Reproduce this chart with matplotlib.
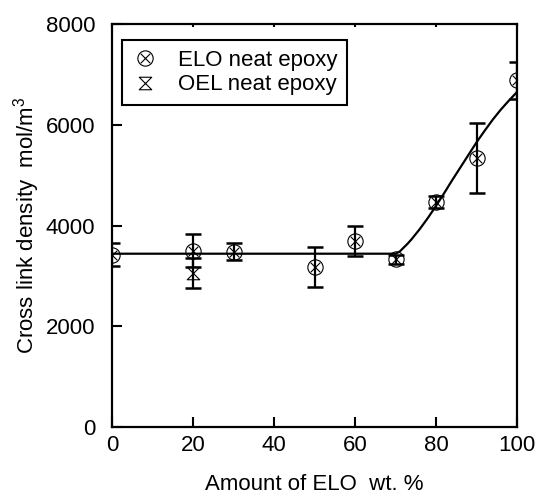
import matplotlib
matplotlib.use("Agg")
import matplotlib.pyplot as plt
from matplotlib.path import Path

plt.rcParams['font.family'] = ['Liberation Sans', 'DejaVu Sans']
plt.rcParams['mathtext.fontset'] = 'custom'
plt.rcParams['mathtext.rm'] = 'Liberation Sans'
plt.rcParams['mathtext.default'] = 'regular'

# Data
elo_x = [0, 20, 30, 50, 60, 70, 80, 90, 100]
elo_y = [3420, 3500, 3480, 3170, 3700, 3330, 4466, 5340, 6880]
elo_err = [230, 330, 170, 400, 300, 90, 120, 700, 370]

oel_x = [20]
oel_y = [3050]
oel_err = [300]

fit_x = [0, 70, 71, 72, 73, 74, 75, 76, 77, 78, 79, 80, 82, 84, 86, 88, 90, 92, 94, 96, 98, 100]
fit_y = [3440, 3440, 3480, 3560, 3640, 3730, 3830, 3930, 4040, 4150, 4270, 4390,
         4640, 4900, 5150, 5400, 5650, 5880, 6100, 6300, 6480, 6650]

x_ticks = [0, 20, 40, 60, 80, 100]
y_ticks = [0, 2000, 4000, 6000, 8000]

# Markers
c = Path.unit_circle()
d = 0.62
cross1 = Path([(-d, -d), (d, d)], [Path.MOVETO, Path.LINETO])
cross2 = Path([(-d, d), (d, -d)], [Path.MOVETO, Path.LINETO])
circx = Path.make_compound_path(c, cross1, cross2)
hourglass = Path([(-1, 1), (1, 1), (-1, -1), (1, -1), (-1, 1)],
                 [Path.MOVETO, Path.LINETO, Path.LINETO, Path.LINETO, Path.CLOSEPOLY])

fig = plt.figure(figsize=(5.37, 4.96), dpi=100)
ax = fig.add_axes([112/537, 69/496, 405/537, 403/496])

ax.plot(fit_x, fit_y, color='black', lw=1.6, zorder=2)

ax.errorbar(elo_x, elo_y, yerr=elo_err, fmt='none', ecolor='black', elinewidth=1.6,
            capsize=5.5, capthick=1.8, zorder=3)
ax.errorbar(oel_x, oel_y, yerr=oel_err, fmt='none', ecolor='black', elinewidth=1.6,
            capsize=5.5, capthick=1.8, zorder=3)

ax.plot(elo_x, elo_y, linestyle='none', marker=circx, markersize=11,
        markerfacecolor='none', markeredgecolor='black', markeredgewidth=0.8,
        label='ELO neat epoxy', zorder=4)
ax.plot(oel_x, oel_y, linestyle='none', marker=hourglass, markersize=9,
        markerfacecolor='none', markeredgecolor='black', markeredgewidth=0.8,
        label='OEL neat epoxy', zorder=4)

ax.set_xlim(0, 100)
ax.set_ylim(0, 8000)
ax.set_xticks(x_ticks)
ax.set_yticks(y_ticks)

for s in ax.spines.values():
    s.set_linewidth(1.6)

ax.tick_params(axis='both', direction='in', length=7, width=1.5, labelsize=16)
ax.tick_params(axis='x', pad=6, top=True)
ax.tick_params(axis='y', pad=12)
for t in ax.xaxis.get_major_ticks():
    t.tick2line.set_markersize(2.5)

ax.set_xlabel('Amount of ELO  wt. %', fontsize=16, labelpad=13)
ax.set_ylabel('Cross link density  mol/m$^3$', fontsize=16, labelpad=3)

leg = ax.legend(loc='upper left', bbox_to_anchor=(0.025, 0.96), fontsize=16,
                frameon=True, fancybox=False, edgecolor='black', framealpha=1,
                handlelength=1.2, handletextpad=0.85, borderpad=0.45,
                labelspacing=0.15, borderaxespad=0)
leg.get_frame().set_linewidth(1.5)

fig.savefig('out.png', dpi=100)
